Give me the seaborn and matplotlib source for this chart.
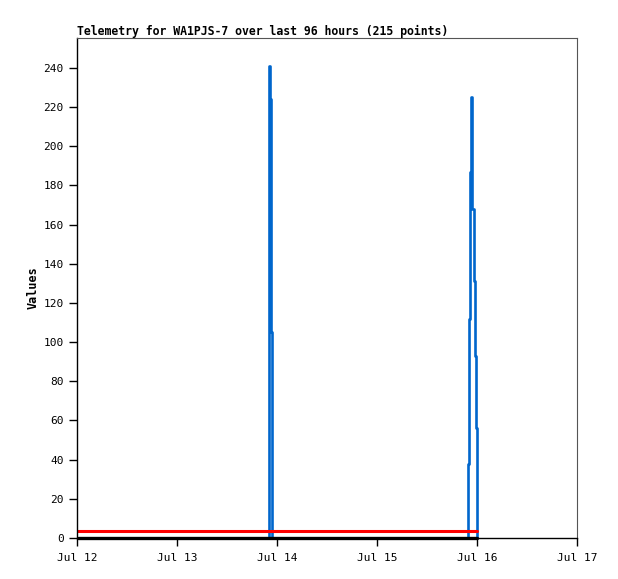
import pandas as pd
import numpy as np
import matplotlib
matplotlib.use("Agg")
import matplotlib.pyplot as plt
import matplotlib.dates as mdates
import seaborn as sns

sns.set_style("white")
plt.rcParams["font.family"] = ["DejaVu Sans Mono"]
plt.rcParams["text.color"] = "black"
plt.rcParams["axes.labelcolor"] = "black"
plt.rcParams["xtick.color"] = "black"
plt.rcParams["ytick.color"] = "black"

START = pd.Timestamp("2023-07-12 00:00")

# blue series (hours after Jul 12 00:00, value)
blue_hours = [0.5, 45.96, 46.15, 46.32, 46.46, 46.68, 93.77, 94.08, 94.32, 94.49,
              94.73, 94.87, 95.21, 95.52, 95.76, 95.88, 96.0]
blue_values = [0, 121, 241, 224, 105, 0, 38, 112, 187, 225,
               206, 168, 131, 93, 56, 18, 0]

# red series
red_hours = [0.2, 96.0]
red_values = [3.6, 3.6]

# black series
black_hours = [0.2, 96.0]
black_values = [0, 0]

title = "Telemetry for WA1PJS-7 over last 96 hours (215 points)"
y_ticks = list(range(0, 241, 20))


def to_dates(hours):
    return [START + pd.Timedelta(hours=h) for h in hours]


blue_df = pd.DataFrame({"t": to_dates(blue_hours), "v": blue_values})
red_df = pd.DataFrame({"t": to_dates(red_hours), "v": red_values})
black_df = pd.DataFrame({"t": to_dates(black_hours), "v": black_values})

fig = plt.figure(figsize=(6.18, 5.79), dpi=100)
ax = fig.add_axes([77 / 618, 41 / 579, 500 / 618, 500 / 579])

sns.lineplot(data=blue_df, x="t", y="v", ax=ax, color="#0066cc", linewidth=1.9,
             drawstyle="steps-post", estimator=None)
sns.lineplot(data=red_df, x="t", y="v", ax=ax, color="#ff0000", linewidth=2.2, estimator=None)
sns.lineplot(data=black_df, x="t", y="v", ax=ax, color="#000000", linewidth=2.4,
             estimator=None, clip_on=False)

ax.set_xlim(START, START + pd.Timedelta(days=5))
ax.set_ylim(0, 255.3)
ax.set_yticks(y_ticks)
ax.xaxis.set_major_locator(mdates.DayLocator())
ax.xaxis.set_major_formatter(mdates.DateFormatter("%b %d"))

ax.tick_params(axis="both", direction="out", length=6, width=1, colors="black",
               labelsize=8, bottom=True, left=True)
ax.tick_params(axis="x", pad=5)
ax.set_xlabel("")
ax.set_ylabel("Values", fontsize=8.5, fontweight="bold", labelpad=3)
ax.set_title(title, loc="left", fontsize=8.3, fontweight="bold", pad=2, color="black")

for side in ["left", "bottom"]:
    ax.spines[side].set_color("black")
    ax.spines[side].set_linewidth(1)
for side in ["top", "right"]:
    ax.spines[side].set_color("#555555")
    ax.spines[side].set_linewidth(0.8)

fig.savefig("out.png", dpi=100)
